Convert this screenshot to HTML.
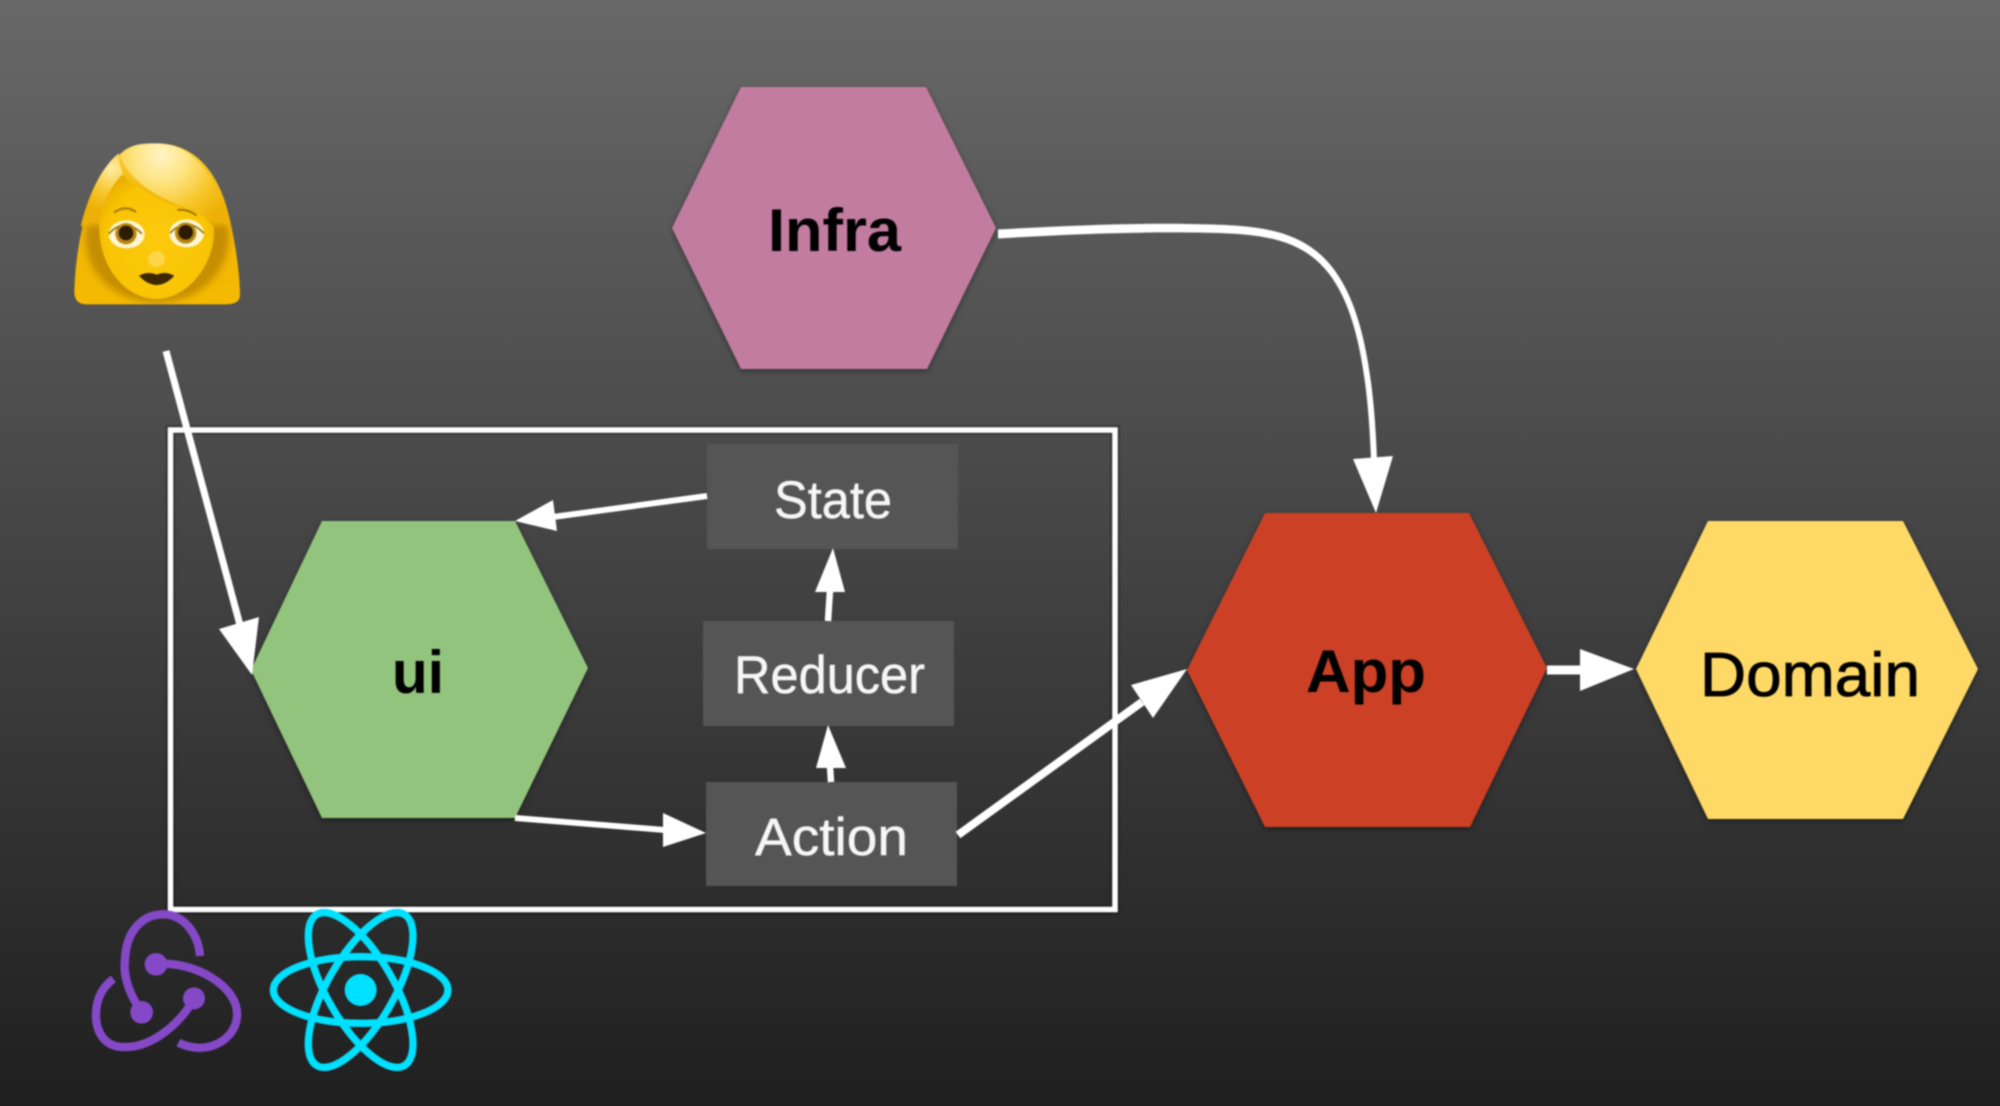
<!DOCTYPE html>
<html>
<head>
<meta charset="utf-8">
<style>
html,body{margin:0;padding:0;width:2000px;height:1106px;overflow:hidden;background:#333}
#bg{position:absolute;left:0;top:0;width:2000px;height:1106px;background:linear-gradient(180deg,#686868 0%,#1f1f1f 100%)}
svg{position:absolute;left:0;top:0;filter:blur(0.7px)}
text{font-family:"Liberation Sans",sans-serif}
</style>
</head>
<body>
<div id="bg"></div>
<svg width="2000" height="1106" viewBox="0 0 2000 1106" xmlns="http://www.w3.org/2000/svg">
<defs>
<filter id="sh" x="-10%" y="-10%" width="120%" height="120%"><feDropShadow dx="0" dy="2" stdDeviation="3" flood-color="#000" flood-opacity="0.4"/></filter>
<filter id="soft" x="-20%" y="-20%" width="140%" height="140%"><feGaussianBlur stdDeviation="10"/></filter>
<linearGradient id="hairG" x1="0" y1="0" x2="0" y2="1"><stop offset="0" stop-color="#f8cc34"/><stop offset="0.4" stop-color="#f0b408"/><stop offset="1" stop-color="#f4ba00"/></linearGradient>
<radialGradient id="bangG" gradientUnits="userSpaceOnUse" cx="365" cy="135" r="235"><stop offset="0" stop-color="#fff4c4"/><stop offset="0.35" stop-color="#fde482"/><stop offset="0.7" stop-color="#f7c72a"/><stop offset="1" stop-color="#eeb006"/></radialGradient>
<radialGradient id="bangL" gradientUnits="userSpaceOnUse" cx="215" cy="175" r="130"><stop offset="0" stop-color="#ffeda4"/><stop offset="0.6" stop-color="#f6c52a"/><stop offset="1" stop-color="#eeb006"/></radialGradient>
<radialGradient id="faceG" cx="0.5" cy="0.55" r="0.6"><stop offset="0" stop-color="#fcc90e"/><stop offset="0.75" stop-color="#f8c404"/><stop offset="1" stop-color="#e9ae00"/></radialGradient>
<clipPath id="hairClip"><path d="M350 100 C480 100 545 210 570 330 C590 420 600 500 600 555 C600 575 585 582 560 583 L140 583 C115 583 103 570 103 545 C105 450 125 330 160 240 C195 150 260 100 350 100 Z"/></clipPath>
</defs>

<!-- frame -->
<rect x="170.5" y="430" width="944.5" height="479.5" fill="none" stroke="#000" stroke-opacity="0.22" stroke-width="10"/>
<rect x="170.5" y="430" width="944.5" height="479.5" fill="none" stroke="#fff" stroke-width="5.5"/>

<!-- hexagons -->
<g filter="url(#sh)">
<polygon points="741,87 926,87 996,228 927,369 741,369 672,228" fill="#c27ba0"/>
<polygon points="322,521 515,521 588,668 515,818 322,818 251,670" fill="#93c47d"/>
<polygon points="1265,513 1469,513 1547,668 1470,827 1265,827 1187,670" fill="#cc4125"/>
<polygon points="1708,521 1903,521 1978,669 1903,819 1708,819 1636,669" fill="#ffd966"/>
</g>

<!-- boxes -->
<rect x="707" y="444" width="251" height="105" fill="#555"/>
<rect x="703" y="621" width="251" height="105" fill="#555"/>
<rect x="706" y="782" width="251" height="104" fill="#555"/>

<!-- connectors -->
<path d="M998 229.5 C1070 225.5 1130 223 1190 224 C1300 226 1369 228 1377 460 L1371 460 C1363 235 1300 234 1190 232.5 C1130 232 1070 234 998 238.5 Z" fill="#fff"/>
<g fill="none" stroke="#fff">
<line x1="166" y1="351" x2="240" y2="625" stroke-width="7"/>
<line x1="707" y1="496" x2="553" y2="517" stroke-width="6"/>
<line x1="515" y1="818" x2="665" y2="830" stroke-width="6"/>
<line x1="828" y1="621" x2="830" y2="590" stroke-width="6.5"/>
<line x1="831" y1="782" x2="830" y2="766" stroke-width="6.5"/>
<line x1="958" y1="835" x2="1142" y2="702" stroke-width="8"/>
<line x1="1547" y1="670" x2="1582" y2="670" stroke-width="9"/>
</g>
<g fill="#fff">
<polygon points="1353,459 1393,456 1376,513"/>
<polygon points="219,629 259,617 252,675"/>
<polygon points="553,500 557,531 515,521"/>
<polygon points="663,813 663,847 706,833"/>
<polygon points="815,592 845,592 833,548"/>
<polygon points="816,768 846,768 828,725"/>
<polygon points="1131,685 1153,718 1187,669"/>
<polygon points="1580,649 1580,691 1634,669"/>
</g>

<!-- labels -->
<g fill="#000" font-weight="700" font-size="60">
<text x="768" y="251" textLength="133" lengthAdjust="spacingAndGlyphs">Infra</text>
<text x="392" y="693" textLength="52" lengthAdjust="spacingAndGlyphs">ui</text>
<text x="1306" y="692" textLength="120" lengthAdjust="spacingAndGlyphs">App</text>
</g>
<text x="1700" y="696" font-size="62" fill="#000" stroke="#000" stroke-width="0.8" textLength="220" lengthAdjust="spacingAndGlyphs">Domain</text>
<g fill="#f6f6f6" font-size="53" stroke="#f6f6f6" stroke-width="0.5">
<text x="774" y="518" textLength="118" lengthAdjust="spacingAndGlyphs">State</text>
<text x="734" y="693" textLength="191" lengthAdjust="spacingAndGlyphs">Reducer</text>
<text x="755" y="855" textLength="153" lengthAdjust="spacingAndGlyphs">Action</text>
</g>

<!-- woman emoji -->
<g transform="translate(40,110) scale(0.3333)">
<path d="M350 100 C480 100 545 210 570 330 C590 420 600 500 600 555 C600 575 585 582 560 583 L140 583 C115 583 103 570 103 545 C105 450 125 330 160 240 C195 150 260 100 350 100 Z" fill="url(#hairG)"/>
<g clip-path="url(#hairClip)">
<path d="M140 345 C118 480 220 578 350 578 C480 578 585 480 562 345 Z" fill="#a87200" opacity="0.6" filter="url(#soft)"/>
</g>
<path d="M178 340 C188 270 215 225 245 190 C300 250 400 290 480 310 L522 350 C530 450 450 567 350 567 C250 567 172 460 178 340 Z" fill="url(#faceG)"/>
<path d="M238 135 C270 100 310 100 350 100 C450 100 525 180 565 345 C480 300 290 270 238 135 Z" fill="url(#bangG)"/>
<path d="M236 130 C190 165 145 250 122 350 C140 340 160 335 180 330 C190 270 215 225 250 190 C240 170 235 150 236 130 Z" fill="url(#bangL)"/>
<path d="M222 308 Q255 284 288 306" fill="none" stroke="#b27f0a" stroke-width="7"/>
<path d="M412 300 Q440 296 470 316" fill="none" stroke="#9c6c04" stroke-width="5"/>
<ellipse cx="260" cy="373" rx="54" ry="42" fill="#fff6d2"/>
<ellipse cx="440" cy="370" rx="52" ry="42" fill="#fff6d2"/>
<path d="M206 372 Q255 318 306 372" fill="none" stroke="#9a7010" stroke-width="5"/>
<path d="M390 370 Q440 316 492 370" fill="none" stroke="#9a7010" stroke-width="5"/>
<circle cx="258" cy="371" r="32" fill="#b98510"/>
<circle cx="437" cy="369" r="32" fill="#b98510"/>
<circle cx="258" cy="369" r="22" fill="#2c1c04"/>
<circle cx="437" cy="367" r="22" fill="#2c1c04"/>
<ellipse cx="350" cy="447" rx="25" ry="24" fill="#fed44c"/>
<path d="M297 497 Q325 483 350 494 Q375 483 403 497 Q378 525 350 525 Q322 525 297 497 Z" fill="#3d2803"/>
</g>

<!-- redux logo -->
<g transform="translate(60,880) scale(0.3333)" fill="none" stroke="#8549c8" stroke-width="25">
<path d="M288 253 C400 240 540 320 531 410 C526 480 440 530 355 488"/>
<path d="M402 355 C370 420 280 505 190 501 C130 501 106 450 108 400 C110 350 130 320 160 297"/>
<path d="M245 397 C200 330 190 280 195 240 C198 150 250 103 310 103 C370 103 415 160 420 228"/>
<g fill="#8549c8" stroke="none">
<circle cx="288" cy="253" r="34"/>
<circle cx="402" cy="355" r="33"/>
<circle cx="245" cy="397" r="34"/>
</g>
</g>

<!-- react logo -->
<g transform="translate(60,880) scale(0.3333)" fill="none" stroke="#00e0ff" stroke-width="22">
<ellipse cx="902" cy="330" rx="262" ry="100"/>
<ellipse cx="902" cy="330" rx="262" ry="100" transform="rotate(60 902 330)"/>
<ellipse cx="902" cy="330" rx="262" ry="100" transform="rotate(-60 902 330)"/>
<circle cx="902" cy="330" r="48" fill="#00e0ff" stroke="none"/>
</g>
</svg>
</body>
</html>
